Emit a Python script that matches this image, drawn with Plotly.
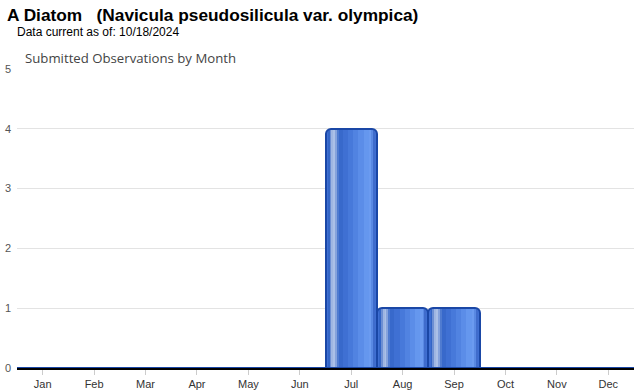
import plotly.graph_objects as go

months = ["Jan", "Feb", "Mar", "Apr", "May", "Jun", "Jul", "Aug", "Sep", "Oct", "Nov", "Dec"]
counts = [0, 0, 0, 0, 0, 0, 4, 1, 1, 0, 0, 0]
y_ticks = [0, 1, 2, 3, 4, 5]

title_text = "A Diatom   (Navicula pseudosilicula var. olympica)"
subtitle_text = "Data current as of: 10/18/2024"
chart_title = "Submitted Observations by Month"

FONT = "Liberation Sans, Arial, sans-serif"
W, H = 640, 390
ML, MR, MT, MB = 17, 6, 69, 22
pw, ph = W - ML - MR, H - MT - MB


def px(x):
    return (x - ML) / pw


def py(y):
    return (H - MB - y) / ph


fig = go.Figure()

# base fill
fig.add_trace(go.Bar(x=months, y=counts, width=1, marker=dict(color="#3f6fd2", line=dict(width=0), cornerradius=5),
                     hoverinfo="skip", showlegend=False))

# horizontal gradient stripes (offsets in category units, bar spans -0.5..0.5)
stripes = [
    (0.05, 0.09, "#3365c6"),
    (0.09, 0.12, "#6d8fd3"),
    (0.12, 0.15, "#9fb6e2"),
    (0.15, 0.19, "#abc0e7"),
    (0.19, 0.22, "#86a3dc"),
    (0.22, 0.26, "#4f7bd0"),
    (0.26, 0.34, "#3869cb"),
    (0.34, 0.44, "#3f70d3"),
    (0.44, 0.54, "#4779da"),
    (0.54, 0.64, "#5183e1"),
    (0.64, 0.74, "#5b8de8"),
    (0.74, 0.84, "#6597ee"),
    (0.84, 0.90, "#6b9bf0"),
    (0.90, 0.93, "#5989e3"),
    (0.93, 0.96, "#3f6ccc"),
]
for a, b, c in stripes:
    fig.add_trace(go.Bar(x=months, y=counts, width=b - a, offset=a - 0.5,
                         marker=dict(color=c, line=dict(width=0)),
                         hoverinfo="skip", showlegend=False))

# outline
fig.add_trace(go.Bar(x=months, y=counts, width=1,
                     marker=dict(color="rgba(0,0,0,0)", line=dict(color="#1a47a6", width=2), cornerradius=5),
                     hoverinfo="skip", showlegend=False))

fig.update_layout(
    width=W, height=H,
    margin=dict(l=ML, r=MR, t=MT, b=MB),
    paper_bgcolor="white", plot_bgcolor="white",
    barmode="overlay", bargap=0,
    font=dict(family=FONT, color="#444", size=11),
    xaxis=dict(showline=True, linecolor="#000", linewidth=1.5, ticks="outside", ticklen=5,
               tickcolor="#ccc", tickfont=dict(size=11, color="#333"), showgrid=False,
               range=[-0.5, 11.5], automargin=False),
    yaxis=dict(range=[0, 5], tickvals=y_ticks, gridcolor="#e3e3e3", gridwidth=1,
               zeroline=False, showline=False, tickfont=dict(size=11, color="#555"),
               ticklabelstandoff=5, automargin=False),
    annotations=[
        dict(text="<b>" + title_text + "</b>", x=px(5), y=py(15), xref="paper", yref="paper",
             showarrow=False, xanchor="left", yanchor="middle",
             font=dict(size=17.3, color="#000", family=FONT)),
        dict(text=subtitle_text, x=px(15), y=py(32), xref="paper", yref="paper",
             showarrow=False, xanchor="left", yanchor="middle",
             font=dict(size=12, color="#000", family=FONT)),
        dict(text=chart_title, x=px(23), y=py(58), xref="paper", yref="paper",
             showarrow=False, xanchor="left", yanchor="middle",
             font=dict(size=13.2, color="#444", family="Open Sans, sans-serif")),
    ],
)

fig.write_html("out.html")
